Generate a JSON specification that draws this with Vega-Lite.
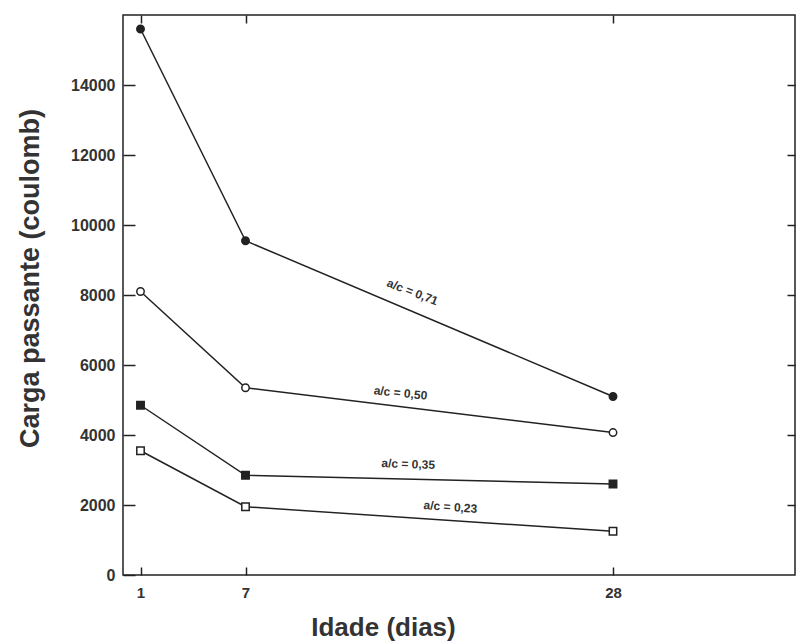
{
  "$schema": "https://vega.github.io/schema/vega-lite/v6.json",
  "autosize": "none",
  "width": 672,
  "height": 560,
  "padding": {"left": 123, "top": 15, "right": 1, "bottom": 68},
  "background": "white",
  "config": {
    "view": {"stroke": "#222", "strokeWidth": 1.5},
    "font": "Liberation Sans",
    "axis": {"grid": false, "domain": false, "labelColor": "#333", "titleColor": "#333", "labelFont": "Liberation Sans", "titleFont": "Liberation Sans", "labelFontWeight": "bold", "titleFontWeight": "bold"}
  },
  "datasets": {
    "series": [
      {"dias": 1, "carga": 15600, "ac": "0,71"},
      {"dias": 7, "carga": 9550, "ac": "0,71"},
      {"dias": 28, "carga": 5100, "ac": "0,71"},
      {"dias": 1, "carga": 8100, "ac": "0,50"},
      {"dias": 7, "carga": 5350, "ac": "0,50"},
      {"dias": 28, "carga": 4070, "ac": "0,50"},
      {"dias": 1, "carga": 4850, "ac": "0,35"},
      {"dias": 7, "carga": 2850, "ac": "0,35"},
      {"dias": 28, "carga": 2600, "ac": "0,35"},
      {"dias": 1, "carga": 3550, "ac": "0,23"},
      {"dias": 7, "carga": 1950, "ac": "0,23"},
      {"dias": 28, "carga": 1250, "ac": "0,23"}
    ],
    "rotulos": [
      {"dias": 16.54, "carga": 8086, "texto": "a/c = 0,71", "angulo": 21},
      {"dias": 15.86, "carga": 5200, "texto": "a/c = 0,50", "angulo": 6},
      {"dias": 16.3, "carga": 3171, "texto": "a/c = 0,35", "angulo": 2},
      {"dias": 18.71, "carga": 1943, "texto": "a/c = 0,23", "angulo": 4}
    ]
  },
  "layer": [
    {
      "data": {"name": "series"},
      "mark": {"type": "line", "color": "#222", "strokeWidth": 1.5},
      "encoding": {
        "x": {"field": "dias", "type": "quantitative", "scale": {"domain": [0, 38.4], "nice": false, "zero": false},
          "axis": {"orient": "bottom", "offset": -8, "values": [1, 7, 28], "format": "d", "ticks": true, "tickSize": 8, "tickColor": "#222", "tickWidth": 1.5, "labelPadding": 10, "labelFontSize": 15, "title": "Idade (dias)", "titleFontSize": 26, "titleX": 260, "titleY": 68, "titleBaseline": "alphabetic", "titleAnchor": null}},
        "y": {"field": "carga", "type": "quantitative", "scale": {"domain": [0, 16000], "nice": false},
          "axis": {"orient": "left", "offset": -12, "values": [0, 2000, 4000, 6000, 8000, 10000, 12000, 14000], "format": "d", "ticks": true, "tickSize": 12, "tickColor": "#222", "tickWidth": 1.5, "labelPadding": 8, "labelFontSize": 16, "title": "Carga passante (coulomb)", "titleFontSize": 27, "titleAngle": -90, "titleX": -97, "titleY": 263, "titleAlign": "center", "titleBaseline": "alphabetic"}},
        "detail": {"field": "ac", "type": "nominal"}
      }
    },
    {
      "data": {"name": "series"},
      "mark": {"type": "point", "size": 55, "strokeWidth": 1.5, "stroke": "#222", "opacity": 1},
      "encoding": {
        "x": {"field": "dias", "type": "quantitative", "scale": {"domain": [0, 38.4], "nice": false, "zero": false},
          "axis": {"orient": "top", "offset": -8, "values": [1, 7, 28], "ticks": true, "tickSize": 8, "tickColor": "#222", "tickWidth": 1.5, "labels": false, "title": null}},
        "y": {"field": "carga", "type": "quantitative", "scale": {"domain": [0, 16000], "nice": false},
          "axis": {"orient": "right", "offset": -8, "values": [2000, 4000, 6000, 8000, 10000, 12000, 14000], "ticks": true, "tickSize": 8, "tickColor": "#222", "tickWidth": 1.5, "labels": false, "title": null}},
        "shape": {"field": "ac", "type": "nominal", "scale": {"domain": ["0,71", "0,50", "0,35", "0,23"], "range": ["circle", "circle", "square", "square"]}, "legend": null},
        "fill": {"field": "ac", "type": "nominal", "scale": {"domain": ["0,71", "0,50", "0,35", "0,23"], "range": ["#222", "white", "#222", "white"]}, "legend": null}
      }
    },
    {
      "data": {"name": "rotulos"},
      "mark": {"type": "text", "font": "Liberation Sans", "fontWeight": "bold", "fontSize": 12, "color": "#333", "align": "center", "baseline": "middle"},
      "encoding": {
        "x": {"field": "dias", "type": "quantitative", "scale": {"domain": [0, 38.4], "nice": false, "zero": false}, "axis": null},
        "y": {"field": "carga", "type": "quantitative", "scale": {"domain": [0, 16000], "nice": false}, "axis": null},
        "text": {"field": "texto"},
        "angle": {"field": "angulo", "type": "quantitative", "scale": null}
      }
    }
  ],
  "resolve": {"axis": {"x": "independent", "y": "independent"}}
}
